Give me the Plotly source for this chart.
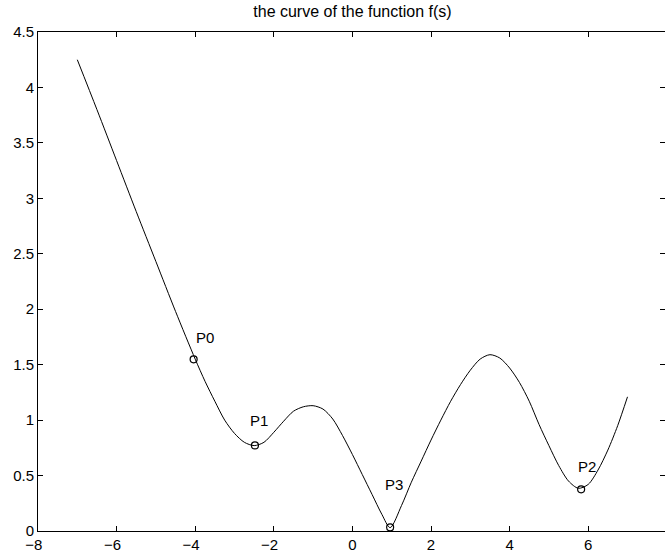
import plotly.graph_objects as go

# curve f(s)
s_vals = [-7, -6.5, -6, -5.5, -5, -4.5, -4, -3.75, -3.5, -3.25, -3, -2.75, -2.5,
          -2.25, -2, -1.75, -1.5, -1.25, -1, -0.75, -0.5, -0.25, 0, 0.25, 0.5,
          0.75, 0.96, 1.25, 1.5, 1.75, 2, 2.25, 2.5, 2.75, 3, 3.25, 3.5, 3.75,
          4, 4.25, 4.5, 4.75, 5, 5.25, 5.5, 5.75, 6, 6.25, 6.5, 6.75, 7]
f_vals = [4.25, 3.80, 3.34, 2.88, 2.43, 1.98, 1.55, 1.35, 1.17, 1.00, 0.88, 0.80, 0.77,
          0.80, 0.89, 0.99, 1.08, 1.12, 1.13, 1.10, 1.01, 0.86, 0.69, 0.51, 0.33,
          0.15, 0.03, 0.23, 0.44, 0.63, 0.82, 1.00, 1.17, 1.32, 1.45, 1.55, 1.59, 1.56,
          1.47, 1.34, 1.17, 0.96, 0.77, 0.59, 0.45, 0.385, 0.42, 0.55, 0.73, 0.95, 1.21]

# marked points
pt_names = ["P0", "P1", "P3", "P2"]
pt_s = [-4.04, -2.48, 0.96, 5.82]
pt_f = [1.548, 0.772, 0.033, 0.376]
# label anchor positions (left, middle)
lab_s = [-4.03, -2.65, 0.77, 5.68]
lab_f = [1.745, 0.998, 0.415, 0.583]

x_ticks = [-8, -6, -4, -2, 0, 2, 4, 6, 8]
x_tick_labels = ["\u22128\u00a0\u00a0", "\u22126\u00a0\u00a0", "\u22124\u00a0\u00a0", "\u22122\u00a0\u00a0",
                 "0", "2", "4", "6", "8"]
y_ticks = [0, 0.5, 1, 1.5, 2, 2.5, 3, 3.5, 4, 4.5]

FONT = "Liberation Sans, Arial, sans-serif"
FS = 15

fig = go.Figure()
fig.add_trace(go.Scatter(x=s_vals, y=f_vals, mode="lines",
                         line=dict(color="black", width=1, shape="spline", smoothing=0.8),
                         hoverinfo="skip", showlegend=False))
fig.add_trace(go.Scatter(x=pt_s, y=pt_f, mode="markers",
                         marker=dict(symbol="circle-open", size=7, color="black",
                                     line=dict(width=1.2, color="black")),
                         showlegend=False))

annotations = []
for name, xs, ys in zip(pt_names, lab_s, lab_f):
    annotations.append(dict(x=xs, y=ys, xref="x", yref="y", text=name, showarrow=False,
                            xanchor="left", yanchor="middle",
                            font=dict(family=FONT, size=FS, color="black")))
# partially visible "8" tick label at the clipped right edge
annotations.append(dict(x=8, y=0, xref="x", yref="y", yshift=-14, text="8", showarrow=False,
                        xanchor="center", yanchor="middle",
                        font=dict(family=FONT, size=FS, color="black")))

fig.update_layout(
    width=665, height=556, autosize=False,
    margin=dict(l=38, r=0, t=32, b=25, pad=0),
    paper_bgcolor="white", plot_bgcolor="white",
    title=dict(text="the curve of the function f(s)", x=0.530, xref="container", xanchor="center",
               y=1 - 11 / 556, yref="container", yanchor="middle",
               font=dict(family=FONT, size=16, color="black")),
    annotations=annotations,
    showlegend=False,
)
fig.update_xaxes(range=[-8, 7.954], tickvals=x_ticks, ticktext=x_tick_labels,
                 ticks="inside", ticklen=5, tickwidth=1,
                 tickcolor="black", showline=True, linecolor="black", linewidth=1, mirror="ticks",
                 showgrid=False, zeroline=False, automargin=False,
                 tickfont=dict(family=FONT, size=FS, color="black"))
fig.update_yaxes(range=[0, 4.5], tickvals=y_ticks, ticks="inside", ticklen=5, tickwidth=1,
                 tickcolor="black", showline=True, linecolor="black", linewidth=1, mirror="ticks",
                 showgrid=False, zeroline=False, automargin=False,
                 tickfont=dict(family=FONT, size=FS, color="black"))

fig.write_html("out.html")
